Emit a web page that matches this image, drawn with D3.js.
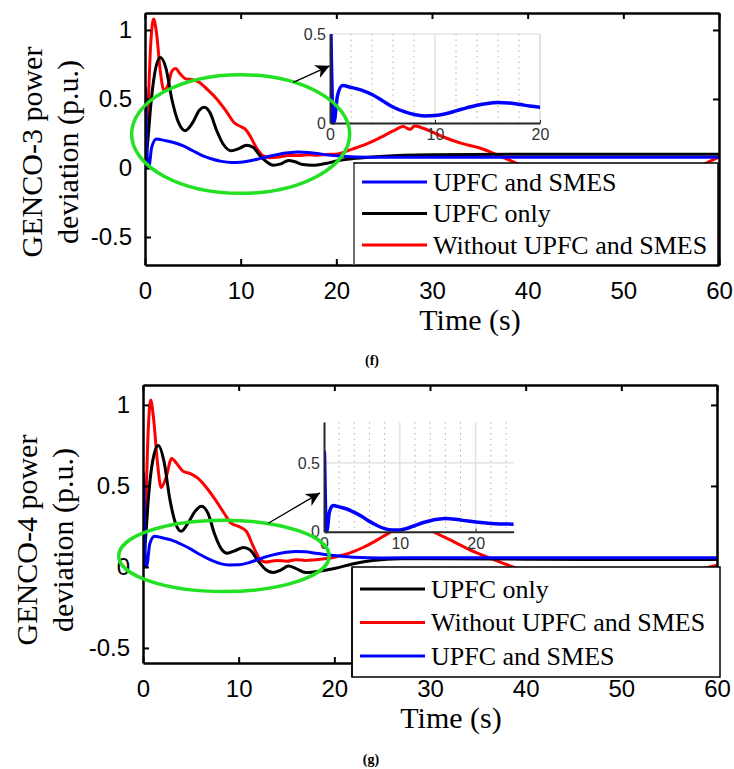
<!DOCTYPE html>
<html>
<head>
<meta charset="utf-8">
<script src="https://cdn.jsdelivr.net/npm/d3@7"></script>
<style>
  body { margin: 0; background: #fff; }
  svg { display: block; }
</style>
</head>
<body>
<script>
'use strict';

// ---- data: [time (s), deviation (p.u.)] ----
const xTicks = [0, 10, 20, 30, 40, 50, 60];
const yTicks = [-0.5, 0, 0.5, 1];
const yTickLabels = ["-0.5", "0", "0.5", "1"];

// GENCO-3 (f)
const g3Smes = [[0,0],[0.05,0.58],[0.15,0.3],[0.3,0],[0.45,0.02],[0.7,0.15],[1.2,0.21],[2,0.2],[3,0.185],[4,0.16],[5,0.125],[6,0.09],[7,0.065],[8,0.048],[9,0.04],[10,0.042],[11,0.052],[12,0.068],[13,0.085],[14,0.1],[15,0.11],[16,0.115],[17,0.113],[18,0.105],[19,0.095],[20,0.088],[22,0.08],[25,0.078],[30,0.078],[40,0.078],[50,0.078],[60,0.078]];
const g3Upfc = [[0,0],[0.3,0.2],[0.6,0.45],[1,0.68],[1.6,0.8],[2.2,0.72],[2.8,0.5],[3.5,0.33],[4.2,0.27],[5,0.33],[5.7,0.42],[6.2,0.44],[6.8,0.4],[7.5,0.27],[8.2,0.17],[9,0.125],[9.8,0.14],[10.6,0.165],[11.3,0.15],[12,0.09],[12.7,0.045],[13.4,0.02],[14.2,0.03],[15,0.055],[15.7,0.045],[16.5,0.025],[17.5,0.02],[19,0.035],[20,0.05],[22,0.07],[25,0.085],[30,0.095],[40,0.1],[50,0.1],[60,0.1]];
const g3None = [[0,0],[0.3,0.4],[0.6,0.9],[0.9,1.08],[1.2,0.98],[1.6,0.7],[2,0.56],[2.4,0.6],[2.8,0.7],[3.2,0.72],[3.7,0.68],[4.3,0.645],[5,0.64],[5.7,0.62],[6.5,0.57],[7.5,0.5],[8.5,0.41],[9.3,0.33],[10,0.3],[10.5,0.28],[11,0.23],[11.7,0.14],[12.3,0.09],[13,0.075],[14,0.08],[15,0.09],[16,0.09],[17,0.095],[18,0.092],[19,0.098],[20,0.1],[21,0.12],[22,0.145],[23,0.17],[24,0.2],[25,0.235],[26,0.27],[27,0.3],[27.7,0.28],[28.2,0.305],[29,0.29],[31,0.23],[33,0.18],[35,0.145],[37,0.09],[39,0.03],[41,-0.03],[44,-0.1],[47,-0.14],[50,-0.15],[53,-0.12],[56,-0.05],[58.5,0.03],[60,0.08]];

// GENCO-4 (g)
const g4Smes = [[0,0],[0.05,0.58],[0.15,0.3],[0.3,0],[0.45,0.02],[0.7,0.14],[1.2,0.19],[2,0.18],[3,0.165],[4,0.14],[5,0.11],[6,0.075],[7,0.045],[8,0.022],[9,0.012],[10,0.013],[11,0.025],[12,0.045],[13,0.065],[14,0.08],[15,0.09],[16,0.095],[17,0.093],[18,0.085],[19,0.077],[20,0.07],[22,0.06],[25,0.055],[30,0.057],[40,0.057],[50,0.057],[60,0.057]];
const g4Upfc = [[0,0],[0.3,0.2],[0.6,0.45],[1,0.65],[1.6,0.75],[2.2,0.65],[2.8,0.42],[3.4,0.27],[4,0.22],[4.7,0.27],[5.4,0.34],[6.1,0.375],[6.8,0.33],[7.5,0.2],[8.2,0.11],[8.8,0.085],[9.6,0.1],[10.5,0.12],[11.2,0.105],[12,0.04],[12.8,-0.015],[13.6,-0.035],[14.4,-0.02],[15.2,0.005],[16,-0.01],[17,-0.035],[18,-0.03],[20,-0.01],[22,0.02],[24,0.04],[27,0.05],[30,0.05],[40,0.048],[50,0.046],[60,0.046]];
const g4None = [[0,0],[0.3,0.4],[0.55,0.85],[0.8,1.03],[1.1,0.92],[1.5,0.65],[1.9,0.49],[2.4,0.55],[3,0.67],[3.5,0.64],[4.2,0.59],[5,0.575],[5.7,0.55],[6.5,0.5],[7.5,0.42],[8.5,0.33],[9.2,0.27],[10,0.25],[10.8,0.22],[11.5,0.13],[12.2,0.05],[12.8,0.03],[14,0.04],[15,0.035],[16,0.045],[17,0.04],[18,0.045],[19,0.05],[20,0.06],[21,0.075],[22,0.095],[23,0.12],[24,0.15],[25,0.185],[26,0.22],[27,0.26],[28,0.29],[29,0.27],[30,0.23],[32,0.17],[34,0.11],[36,0.06],[38,0.015],[40,-0.03],[43,-0.09],[46,-0.12],[49,-0.12],[52,-0.1],[55,-0.06],[58,-0.02],[60,0.01]];

const seriesNames = ["UPFC and SMES", "UPFC only", "Without UPFC and SMES"];
const seriesColors = ["#0000ff", "#000000", "#ff0000"];

const svg = d3.select("body").append("svg")
  .attr("width", 734)
  .attr("height", 769);

const defs = svg.append("defs");
defs.append("marker")
  .attr("id", "head")
  .attr("viewBox", "0 0 10 10")
  .attr("refX", 10).attr("refY", 5)
  .attr("markerWidth", 14).attr("markerHeight", 14)
  .attr("markerUnits", "userSpaceOnUse")
  .attr("orient", "auto")
  .append("path")
    .attr("d", "M0,0 L10,5 L0,10 L3,5 Z")
    .attr("fill", "#000");

function drawPanel(p) {
  const x = d3.scaleLinear().domain([0, 60]).range([p.left, p.right]);
  const y = d3.scaleLinear().domain(p.yDomain).range([p.bottom, p.top]);
  const g = svg.append("g");

  const clipId = "clip" + p.id;
  defs.append("clipPath").attr("id", clipId)
    .append("rect")
      .attr("x", p.left).attr("y", p.top)
      .attr("width", p.right - p.left).attr("height", p.bottom - p.top);

  const line = d3.line()
    .x(d => x(d[0])).y(d => y(d[1]))
    .curve(d3.curveMonotoneX);

  // curves (red first so blue sits on top)
  g.append("g").attr("clip-path", `url(#${clipId})`)
    .selectAll("path")
    .data(p.drawOrder)
    .join("path")
      .attr("d", k => line(p.series[k]))
      .attr("fill", "none")
      .attr("stroke", k => seriesColors[k])
      .attr("stroke-width", 3)
      .attr("stroke-linejoin", "round");

  // axes, ticks pointing inward
  g.append("g")
    .attr("transform", `translate(0,${p.bottom})`)
    .call(d3.axisBottom(x).tickValues(xTicks).tickFormat(d3.format("d"))
      .tickSizeInner(-6).tickSizeOuter(0).tickPadding(17))
    .call(a => a.selectAll("text").attr("font-size", 24));
  g.append("g")
    .attr("transform", `translate(${p.left},0)`)
    .call(d3.axisLeft(y).tickValues(yTicks).tickFormat((d, i) => yTickLabels[i])
      .tickSizeInner(-6).tickSizeOuter(0).tickPadding(13))
    .call(a => a.selectAll("text").attr("font-size", 24));
  g.append("g")
    .attr("transform", `translate(0,${p.top})`)
    .call(d3.axisTop(x).tickValues(xTicks).tickFormat("").tickSizeInner(-6).tickSizeOuter(0));
  g.append("g")
    .attr("transform", `translate(${p.right},0)`)
    .call(d3.axisRight(y).tickValues(yTicks).tickFormat("").tickSizeInner(-6).tickSizeOuter(0));
  g.selectAll(".domain").attr("stroke-width", 2.5);
  g.selectAll(".tick line").attr("stroke-width", 2);
  g.selectAll(".tick text")
    .attr("font-family", "'Liberation Sans', Arial, sans-serif")
    .attr("fill", "#000");

  // legend
  const lg = g.append("g");
  lg.append("rect")
    .attr("x", p.legend.x).attr("y", p.legend.y)
    .attr("width", p.legend.w).attr("height", p.legend.h)
    .attr("fill", "#fff").attr("stroke", "#000").attr("stroke-width", 1.5);
  lg.append("line")
    .attr("x1", p.legend.x).attr("x2", p.legend.x)
    .attr("y1", p.legend.y + 1).attr("y2", p.legend.y + p.legend.h)
    .attr("stroke", p.legend.edge).attr("stroke-width", 1.5);
  p.legendOrder.forEach((k, i) => {
    const cy = p.legend.firstY + i * p.legend.step;
    lg.append("line")
      .attr("x1", p.legend.x + 8).attr("x2", p.legend.x + 73)
      .attr("y1", cy).attr("y2", cy)
      .attr("stroke", seriesColors[k]).attr("stroke-width", 3);
    lg.append("text")
      .attr("x", p.legend.x + 79).attr("y", cy + 8.5)
      .attr("font-family", "'Liberation Serif', 'Times New Roman', serif")
      .attr("font-size", 26)
      .text(seriesNames[k]);
  });

  // inset (zoom on UPFC and SMES)
  const ins = p.inset;
  const xi = d3.scaleLinear().domain(ins.xDomain).range([ins.left, ins.right]);
  const yi = d3.scaleLinear().domain(ins.yDomain).range([ins.bottom, ins.top]);
  const ig = g.append("g");
  ig.append("rect")
    .attr("x", ins.left).attr("y", ins.top)
    .attr("width", ins.right - ins.left).attr("height", ins.bottom - ins.top)
    .attr("fill", "#fff");
  // minor dotted grid
  ig.append("g").selectAll("line")
    .data(d3.range(ins.xDomain[0], ins.xDomain[1] + 0.01, 2).filter(v => v % 10 !== 0))
    .join("line")
      .attr("x1", d => xi(d)).attr("x2", d => xi(d))
      .attr("y1", ins.top).attr("y2", ins.bottom)
      .attr("stroke", "#b0b0b0").attr("stroke-width", 1)
      .attr("stroke-dasharray", "1.5,4");
  // major solid grid
  ig.append("g").selectAll("line")
    .data(ins.xMajor.filter(v => v > 0))
    .join("line")
      .attr("x1", d => xi(d)).attr("x2", d => xi(d))
      .attr("y1", ins.top).attr("y2", ins.bottom)
      .attr("stroke", "#dcdcdc").attr("stroke-width", 1.2);
  ig.append("line")
    .attr("x1", ins.left).attr("x2", ins.right)
    .attr("y1", yi(0.5)).attr("y2", yi(0.5))
    .attr("stroke", "#dcdcdc").attr("stroke-width", 1.2);
  if (ins.box) {
    ig.append("line")
      .attr("x1", ins.right).attr("x2", ins.right)
      .attr("y1", ins.top).attr("y2", ins.bottom)
      .attr("stroke", "#dcdcdc").attr("stroke-width", 1.2);
  }

  const iClip = "iclip" + p.id;
  defs.append("clipPath").attr("id", iClip)
    .append("rect")
      .attr("x", ins.left).attr("y", ins.top)
      .attr("width", ins.right - ins.left).attr("height", ins.bottom - ins.top + 2);
  ig.append("path")
    .attr("clip-path", `url(#${iClip})`)
    .attr("d", d3.line().x(d => xi(d[0])).y(d => yi(d[1])).curve(d3.curveMonotoneX)(p.series[0]))
    .attr("fill", "none").attr("stroke", seriesColors[0])
    .attr("stroke-width", 3.5).attr("stroke-linejoin", "round");

  ig.append("g")
    .attr("transform", `translate(0,${ins.bottom})`)
    .call(d3.axisBottom(xi).tickValues(ins.xMajor).tickSizeInner(-3).tickSizeOuter(0).tickPadding(6));
  ig.append("g")
    .attr("transform", `translate(${ins.left},0)`)
    .call(d3.axisLeft(yi).tickValues([0, 0.5]).tickFormat(d3.format("")).tickSizeInner(0).tickSizeOuter(0).tickPadding(4));
  ig.selectAll(".domain").attr("stroke", "#262626").attr("stroke-width", 2);
  ig.selectAll(".tick text")
    .attr("font-family", "'Liberation Sans', Arial, sans-serif")
    .attr("font-size", 16).attr("fill", "#333");
  ig.selectAll(".tick line").attr("stroke", "#262626");

  // annotation: ellipse and arrow in data units of the main axes
  const a = p.note;
  g.append("ellipse")
    .attr("cx", x(a.cx)).attr("cy", y(a.cy))
    .attr("rx", x(a.rx) - x(0)).attr("ry", y(0) - y(a.ry))
    .attr("fill", "none").attr("stroke", "#22e022").attr("stroke-width", 3.5);
  g.append("line")
    .attr("x1", x(a.from[0])).attr("y1", y(a.from[1]))
    .attr("x2", x(a.to[0])).attr("y2", y(a.to[1]))
    .attr("stroke", "#000").attr("stroke-width", 1.3)
    .attr("marker-end", "url(#head)");

  // axis labels
  const serif = "'Liberation Serif', 'Times New Roman', serif";
  g.append("text")
    .attr("x", p.xLabel[0]).attr("y", p.xLabel[1])
    .attr("text-anchor", "middle")
    .attr("font-family", serif).attr("font-size", 30)
    .text("Time (s)");
  p.yLabel.lines.forEach((t, i) => {
    g.append("text")
      .attr("transform", `translate(${p.yLabel.xs[i]},${p.yLabel.cy}) rotate(-90)`)
      .attr("text-anchor", "middle")
      .attr("font-family", serif).attr("font-size", 30)
      .text(t);
  });
  g.append("text")
    .attr("x", p.tag[0]).attr("y", p.tag[1])
    .attr("text-anchor", "middle")
    .attr("font-family", serif).attr("font-size", 14).attr("font-weight", "bold")
    .text(p.tagText);
}

drawPanel({
  id: "f",
  left: 145, right: 719, top: 13, bottom: 265,
  yDomain: [-0.703, 1.123],
  series: [g3Smes, g3Upfc, g3None],
  drawOrder: [2, 1, 0],
  legendOrder: [0, 1, 2],
  legend: { x: 354, y: 163, w: 364, h: 102, firstY: 182, step: 31.5, edge: "#808080" },
  inset: { left: 330, right: 540, top: 34, bottom: 123, xDomain: [0, 20], yDomain: [0, 0.5], xMajor: [0, 10, 20], box: true },
  note: { cx: 10, cy: 0.246, rx: 11.4, ry: 0.43, from: [15.5, 0.62], to: [19.3, 0.74] },
  xLabel: [470, 330],
  yLabel: { lines: ["GENCO-3 power", "deviation (p.u.)"], xs: [42, 78], cy: 152 },
  tag: [372, 365], tagText: "(f)"
});

drawPanel({
  id: "g",
  left: 143, right: 717, top: 385, bottom: 663,
  yDomain: [-0.593, 1.123],
  series: [g4Smes, g4Upfc, g4None],
  drawOrder: [2, 1, 0],
  legendOrder: [1, 2, 0],
  legend: { x: 352, y: 567, w: 368, h: 110, firstY: 589, step: 33.5, edge: "#000" },
  inset: { left: 324, right: 513.6, top: 422, bottom: 531.7, xDomain: [0, 25], yDomain: [0, 0.797], xMajor: [0, 10, 20], box: false },
  note: { cx: 8.46, cy: 0.068, rx: 11, ry: 0.22, from: [13.1, 0.27], to: [18.5, 0.457] },
  xLabel: [451, 728],
  yLabel: { lines: ["GENCO-4 power", "deviation (p.u.)"], xs: [37, 73], cy: 540 },
  tag: [371, 764], tagText: "(g)"
});
</script>
</body>
</html>
